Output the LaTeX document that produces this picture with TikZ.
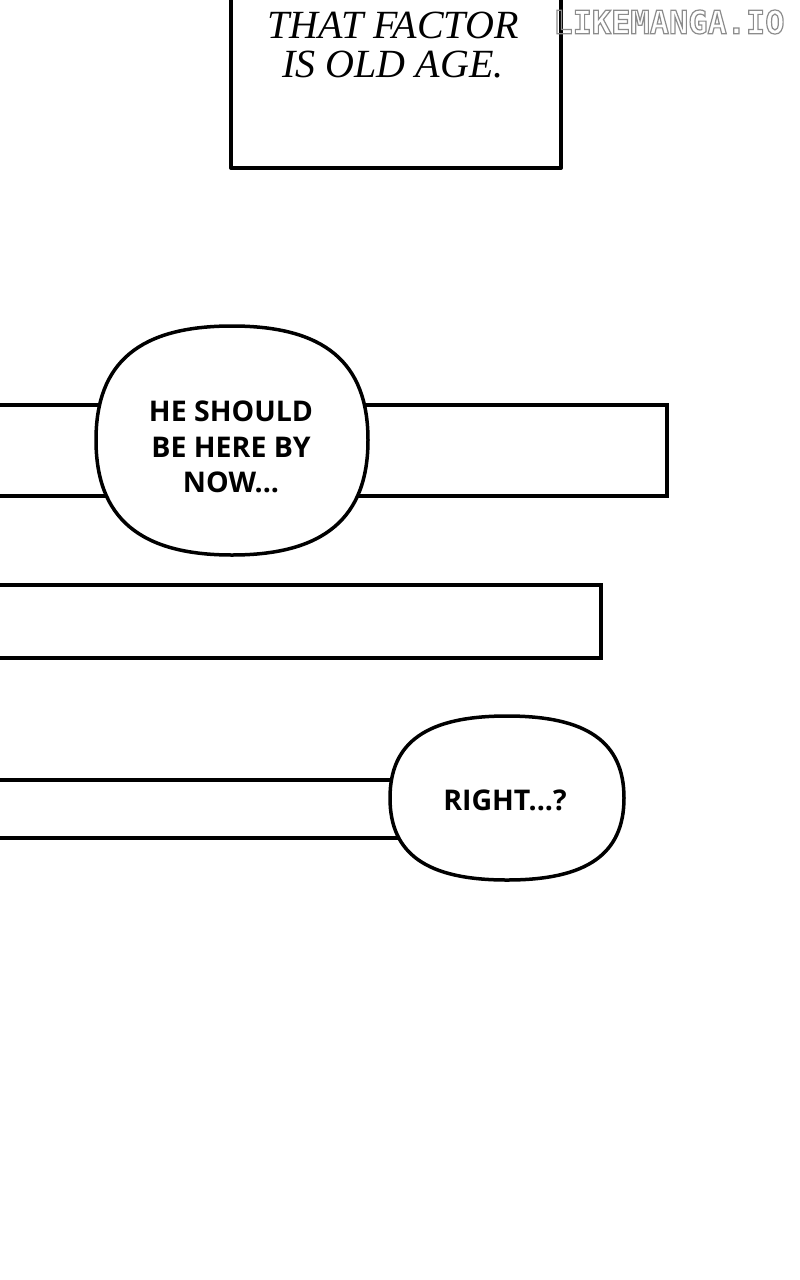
\documentclass[tikz,border=0pt]{standalone}
\usepackage{fontspec}
\newfontfamily\bubblefont{Open Sans}
\newfontfamily\capfont{Liberation Serif}
\newfontfamily\wmfont{DejaVu Sans Mono}
\newcommand{\outlinetext}[1]{\special{pdf:literal direct 1 Tr 1.2 w}#1\special{pdf:literal direct 0 Tr}}
\tikzset{
  panel/.style={draw=black, line width=4pt, line join=round},
  strip/.style={draw=black, line width=3.5pt},
  bubble/.style={draw=black, fill=white, line width=3.5pt},
  bubbletext/.style={font=\bubblefont\bfseries\fontsize{28.5}{35.5}\selectfont, align=center, inner sep=0pt},
  captext/.style={font=\capfont\itshape\fontsize{40}{38.5}\selectfont, align=center, inner sep=0pt},
  wmtext/.style={font=\wmfont\bfseries\fontsize{32}{32}\selectfont, text=black!45, inner sep=0pt}
}
\begin{document}
\begin{tikzpicture}[x=1pt,y=-1pt]
\useasboundingbox (0,0) rectangle (800,1280);
\fill[white] (0,0) rectangle (800,1280);
% top caption panel
\draw[panel] (231,-10) -- (231,168) -- (561,168) -- (561,-10);
\node[captext] (cap) at (393,45) {THAT FACTOR\\IS OLD AGE.};
\node[wmtext] (wm) at (669,22) {\outlinetext{LIKEMANGA.IO}};
% strips
\draw[strip] (-10,405) rectangle (667,496);
\draw[strip] (-10,585) rectangle (601,658);
\draw[strip] (-10,780) rectangle (450,838);
% bubble 1
\draw[bubble] (368,440) .. controls (368,518) and (324,555) .. (232,555)
  .. controls (140,555) and (96,518) .. (96,440)
  .. controls (96,362) and (140,326) .. (232,326)
  .. controls (324,326) and (368,362) .. (368,440) -- cycle;
\node[bubbletext] (b1) at (231,447) {HE SHOULD\\BE HERE BY\\NOW...};
% bubble 2
\draw[bubble] (624,798) .. controls (624,854) and (587,880) .. (507,880)
  .. controls (427,880) and (390,854) .. (390,798)
  .. controls (390,742) and (427,716) .. (507,716)
  .. controls (587,716) and (624,742) .. (624,798) -- cycle;
\node[bubbletext] (b2) at (505,800) {RIGHT...?};
\end{tikzpicture}
\end{document}
